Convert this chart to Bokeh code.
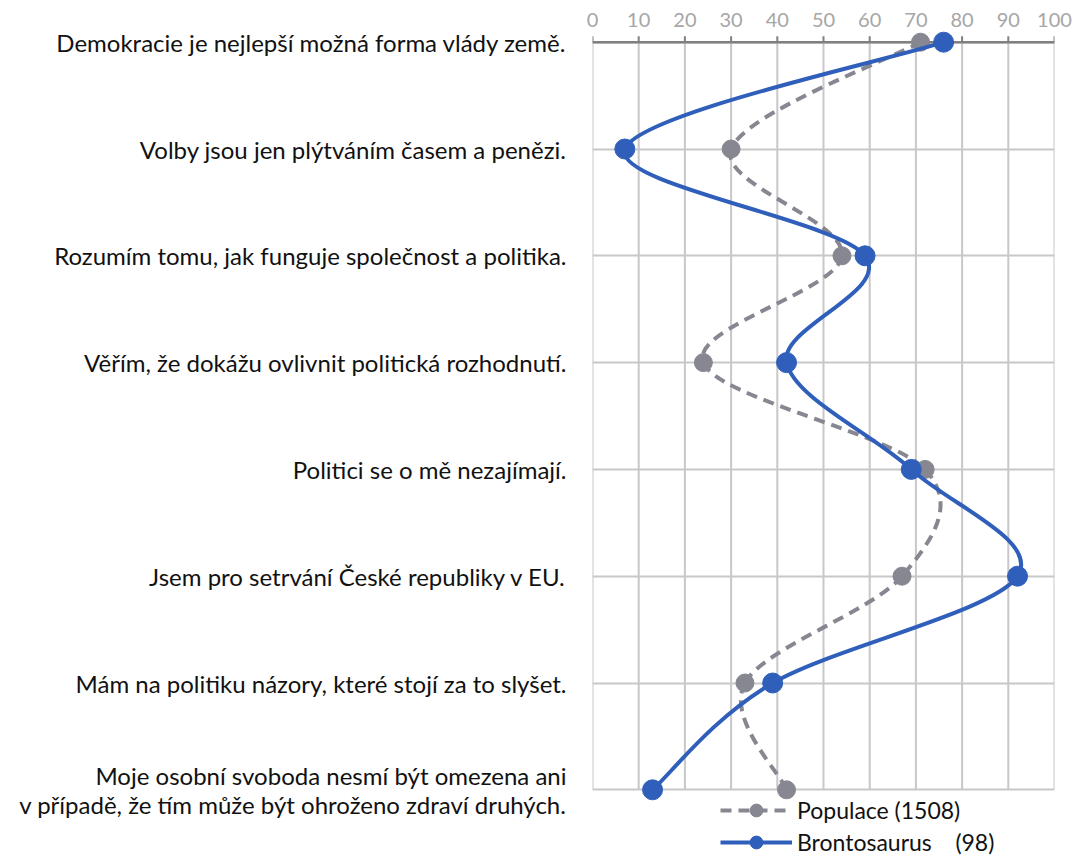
import numpy as np
from bokeh.plotting import figure
from bokeh.models import Range1d, FixedTicker, Legend, LegendItem, ColumnDataSource
from bokeh.embed import file_html
from bokeh.resources import INLINE

# ---------------- data ----------------
categories = [
    "Demokracie je nejlepší možná forma vlády země.",
    "Volby jsou jen plýtváním časem a penězi.",
    "Rozumím tomu, jak funguje společnost a politika.",
    "Věřím, že dokážu ovlivnit politická rozhodnutí.",
    "Politici se o mě nezajímají.",
    "Jsem pro setrvání České republiky v EU.",
    "Mám na politiku názory, které stojí za to slyšet.",
    "Moje osobní svoboda nesmí být omezena ani\nv případě, že tím může být ohroženo zdraví druhých.",
]
populace = [71, 30, 54, 24, 72, 67, 33, 42]
brontosaurus = [76, 7, 59, 42, 69, 92, 39, 13]
x_ticks = [0, 10, 20, 30, 40, 50, 60, 70, 80, 90, 100]
series_labels = ["Populace (1508)", "Brontosaurus \u00a0\u00a0\u00a0(98)"]

FONT = "Lato"
BLUE = "#2f5fba"
GRAY = "#878791"
GRID = "#c8c8c8"
AXIS = "#808080"

n = len(categories)
rows = list(range(n))

# layout (pixels)
W, H = 1073, 855
FRAME_L, FRAME_R, FRAME_T = 592, 1054, 29
ROW0_PX, ROWN_PX = 41.7, 789.3
PX_PER_ROW = (ROWN_PX - ROW0_PX) / (n - 1)
y_top = -(ROW0_PX - FRAME_T) / PX_PER_ROW
y_bottom = (n - 1) + (H - ROWN_PX) / PX_PER_ROW
TICK_LEN = 6 / PX_PER_ROW


def bezier_source(vals):
    """Smoothed line (Catmull-Rom style) as cubic Bezier segments through the points."""
    P = np.column_stack([np.asarray(vals, float), np.asarray(rows, float)])
    d = dict(x0=[], y0=[], x1=[], y1=[], cx0=[], cy0=[], cx1=[], cy1=[])
    for i in range(len(P) - 1):
        p0 = P[i - 1] if i > 0 else P[i]
        p1 = P[i]
        p2 = P[i + 1]
        p3 = P[i + 2] if i + 2 < len(P) else P[i + 1]
        c1 = p1 + (p2 - p0) / 6.0
        c2 = p2 - (p3 - p1) / 6.0
        d["x0"].append(p1[0]); d["y0"].append(p1[1])
        d["x1"].append(p2[0]); d["y1"].append(p2[1])
        d["cx0"].append(c1[0]); d["cy0"].append(c1[1])
        d["cx1"].append(c2[0]); d["cy1"].append(c2[1])
    return ColumnDataSource(d)


p = figure(
    width=W, height=H,
    x_range=Range1d(x_ticks[0], x_ticks[-1]),
    y_range=Range1d(y_bottom, y_top),
    x_axis_location="above",
    output_backend="svg", toolbar_location=None,
    min_border_left=FRAME_L, min_border_right=W - FRAME_R,
    min_border_top=FRAME_T, min_border_bottom=0,
)
p.outline_line_color = None
p.background_fill_color = "white"
p.border_fill_color = "white"

# top axis (labels only; line and ticks drawn at the first row)
xa = p.xaxis[0]
xa.ticker = FixedTicker(ticks=x_ticks)
xa.axis_line_color = None
xa.major_tick_line_color = None
xa.major_tick_out = 0
xa.major_tick_in = 0
xa.minor_tick_line_color = None
xa.major_label_standoff = 3
xa.major_label_text_font = FONT
xa.major_label_text_font_size = "20px"
xa.major_label_text_color = "#a6a6a6"

# left category axis
ya = p.yaxis[0]
ya.ticker = FixedTicker(ticks=rows)
ya.major_label_overrides = {i: c for i, c in enumerate(categories)}
ya.axis_line_color = None
ya.major_tick_line_color = None
ya.minor_tick_line_color = None
ya.major_tick_out = 0
ya.major_tick_in = 0
ya.major_label_standoff = 26
ya.major_label_text_font = FONT
ya.major_label_text_font_size = "24px"
ya.major_label_text_color = "#111111"
ya.major_label_text_line_height = 1.0

# grids
p.xgrid.grid_line_color = None
p.ygrid.ticker = FixedTicker(ticks=rows)
p.ygrid.grid_line_color = GRID
p.ygrid.grid_line_width = 2

nt = len(x_ticks)
p.segment(x0=x_ticks, y0=[rows[0]] * nt, x1=x_ticks, y1=[rows[-1]] * nt,
          line_color=GRID, line_width=2)
p.segment(x0=x_ticks, y0=[rows[0]] * nt, x1=x_ticks, y1=[rows[0] - TICK_LEN] * nt,
          line_color=AXIS, line_width=2)
p.segment(x0=[x_ticks[0]], y0=[rows[0]], x1=[x_ticks[-1]], y1=[rows[0]],
          line_color=AXIS, line_width=2.5)

# series
pop_curve = p.bezier(source=bezier_source(populace), x0="x0", y0="y0", x1="x1", y1="y1",
                     cx0="cx0", cy0="cy0", cx1="cx1", cy1="cy1",
                     line_color=GRAY, line_width=4, line_dash="11 7")
pop_pts = p.scatter(x=populace, y=rows, size=18, marker="circle",
                    fill_color=GRAY, line_color=GRAY)
br_curve = p.bezier(source=bezier_source(brontosaurus), x0="x0", y0="y0", x1="x1", y1="y1",
                    cx0="cx0", cy0="cy0", cx1="cx1", cy1="cy1",
                    line_color=BLUE, line_width=4)
br_pts = p.scatter(x=brontosaurus, y=rows, size=20, marker="circle",
                   fill_color=BLUE, line_color=BLUE)

legend = Legend(
    items=[LegendItem(label=series_labels[0], renderers=[pop_curve, pop_pts]),
           LegendItem(label=series_labels[1], renderers=[br_curve, br_pts])],
    location=(128, -3),
    orientation="vertical",
    glyph_width=72, glyph_height=32, label_standoff=5, spacing=0,
    padding=0, margin=0,
    border_line_color=None, background_fill_alpha=0,
    label_text_font=FONT, label_text_font_size="23px", label_text_color="#111111",
)
p.add_layout(legend)

open("out.html", "w").write(file_html(p, INLINE))
